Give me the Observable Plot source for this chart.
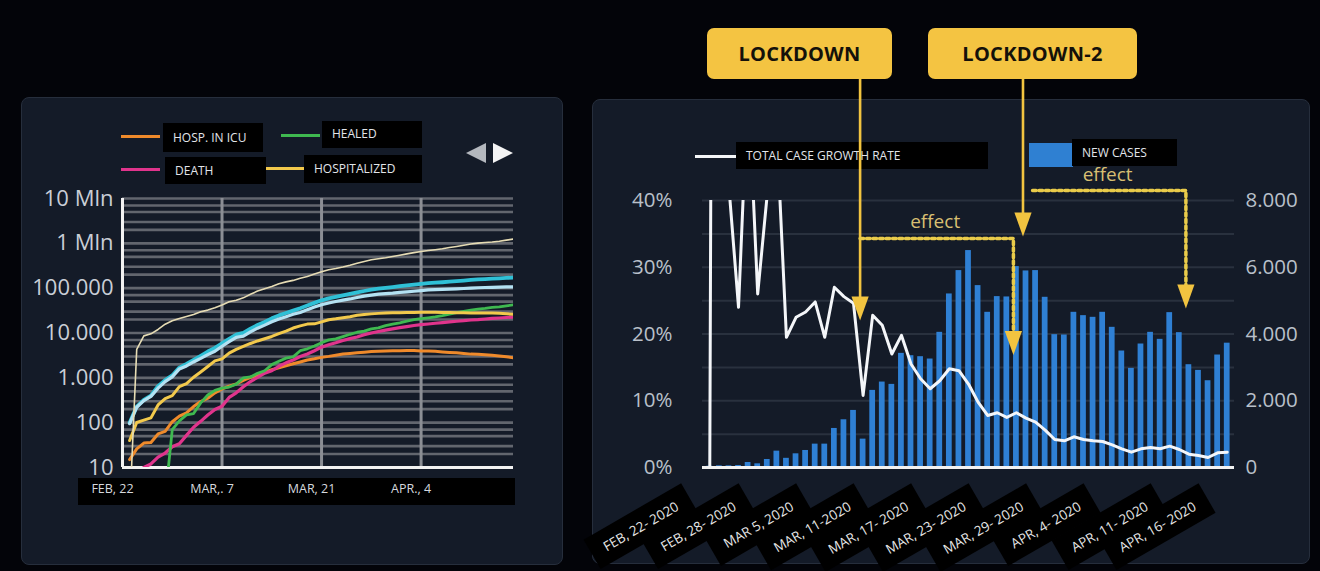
<!DOCTYPE html>
<html><head><meta charset="utf-8">
<script src="https://cdn.jsdelivr.net/npm/d3@7"></script>
<script src="https://cdn.jsdelivr.net/npm/@observablehq/plot@0.6"></script>
<style>
html,body{margin:0;padding:0;background:#030409;}
#page{position:relative;width:1320px;height:571px;overflow:hidden;background:#030409;font-family:"Open Sans",sans-serif;}
.panel{position:absolute;background:#141b28;border:1.5px solid #262e3c;border-radius:8px;box-sizing:border-box;}
.blk{position:absolute;background:#000;}
.lg{position:absolute;color:#e2e5ea;font-size:12px;line-height:1;white-space:nowrap;}
.sw{position:absolute;height:3px;}
.lock{position:absolute;background:#f4c442;border-radius:7px;color:#14110a;font-weight:700;font-size:20px;display:flex;align-items:center;justify-content:center;letter-spacing:0.3px;}
.tri{position:absolute;width:0;height:0;border-top:10px solid transparent;border-bottom:10px solid transparent;}
</style></head><body>
<div id="page">
  <div class="panel" style="left:21px;top:97px;width:542px;height:468px"></div>
  <div class="panel" style="left:592px;top:99px;width:718px;height:465px"></div>

  <!-- left legend -->
  <div class="sw" style="left:121px;top:135px;width:39px;background:#ef8a2b"></div>
  <div class="blk" style="left:163px;top:123px;width:100px;height:29px"></div>
  <div class="lg" style="left:173px;top:132px">HOSP. IN ICU</div>
  <div class="sw" style="left:281px;top:134px;width:39px;background:#3fb950"></div>
  <div class="blk" style="left:322px;top:121px;width:100px;height:27px"></div>
  <div class="lg" style="left:332px;top:128px">HEALED</div>
  <div class="sw" style="left:121px;top:168px;width:39px;background:#e0348c"></div>
  <div class="blk" style="left:165px;top:157px;width:101px;height:27px"></div>
  <div class="lg" style="left:175px;top:165px">DEATH</div>
  <div class="sw" style="left:266px;top:167px;width:38px;background:#f2c94c"></div>
  <div class="blk" style="left:304px;top:155px;width:118px;height:28px"></div>
  <div class="lg" style="left:314px;top:163px">HOSPITALIZED</div>
  <div class="tri" style="left:466px;top:143px;border-right:20px solid #b4b8be"></div>
  <div class="tri" style="left:493px;top:143px;border-left:20px solid #f4f4f4"></div>
  <div class="blk" style="left:78px;top:478px;width:437px;height:27px"></div>

  <!-- right legend -->
  <div class="sw" style="left:695px;top:155px;width:42px;background:#f4f6f8"></div>
  <div class="blk" style="left:736px;top:142px;width:252px;height:27px"></div>
  <div class="lg" style="left:746px;top:150px">TOTAL CASE GROWTH RATE</div>
  <div class="sw" style="left:1029px;top:143px;width:44px;height:24px;background:#2f80d2"></div>
  <div class="blk" style="left:1072px;top:139px;width:105px;height:27px"></div>
  <div class="lg" style="left:1082px;top:147px">NEW CASES</div>

  <div id="left" style="position:absolute;left:0;top:0"></div>
  <div id="right" style="position:absolute;left:592px;top:0"></div>

  <div class="lock" style="left:707px;top:28px;width:185px;height:51px">LOCKDOWN</div>
  <div class="lock" style="left:928px;top:28px;width:209px;height:51px">LOCKDOWN-2</div>
</div>
<script>
const D = (m, d) => new Date(Date.UTC(2020, m, d));

// ---------- LEFT CHART DATA (Feb 23 .. Apr 17) ----------
const leftDays = d3.utcDay.range(D(1, 23), D(3, 18));
const tests = [1, 4320, 8620, 9590, 12000, 15700, 18700,
  21100, 23300, 25900, 29800, 32400, 36400, 42100, 49900, 53800, 60800, 73200, 86000, 97500, 109000, 125000, 138000, 149000, 166000, 183000, 207000, 233000, 258000, 275000, 297000, 324000, 361000, 394000, 430000, 454000, 477000, 507000,
  541000, 581000, 620000, 657000, 691000, 722000, 755000, 807000, 853000, 907000, 963000, 1010000, 1047000, 1074000, 1117000, 1178000, 1244000];
const totalCases = [100, 229, 322, 400, 650, 888, 1130,
  1690, 2040, 2500, 3090, 3860, 4640, 5880, 7380, 9170, 10100, 12500, 15100, 17700, 21200, 24700, 28000, 31500, 35700, 41000, 47000, 53600, 59100, 63900, 69200, 74400, 80500, 86500, 92500, 97700, 101700, 105800,
  110600, 115200, 119800, 124600, 128900, 132500, 135600, 139400, 143600, 147600, 152300, 156400, 159500, 162500, 165200, 168900, 172400];
const activeCases = [95, 221, 311, 385, 588, 821, 1050,
  1580, 1840, 2260, 2710, 3300, 3920, 5060, 6390, 7990, 8510, 10600, 12800, 15000, 17800, 20600, 23100, 26100, 28700, 33200, 37900, 42700, 46600, 50400, 54000, 57500, 62000, 66400, 70100, 73900, 75500, 77600,
  80600, 83000, 85400, 88300, 91200, 93200, 94100, 95300, 96900, 98300, 100300, 102300, 103600, 104300, 105400, 106600, 107000];
const hospitalized = [40, 101, 114, 128, 248, 345, 401,
  639, 742, 1030, 1350, 1790, 2390, 2650, 3560, 4320, 5040, 5840, 6650, 7430, 8370, 9660, 11000, 12900, 14400, 15800, 16000, 17700, 19800, 20700, 21900, 23100, 24800, 26000, 26700, 27400, 27800, 28200,
  28400, 28500, 28700, 29000, 28900, 29000, 28700, 28500, 28400, 28200, 28100, 27800, 28000, 28000, 27600, 26900, 26000];
const icu = [15, 26, 35, 36, 56, 64, 105,
  140, 166, 229, 295, 351, 462, 567, 650, 733, 877, 1030, 1150, 1330, 1520, 1670, 1850, 2060, 2260, 2500, 2660, 2860, 3010, 3200, 3400, 3490, 3610, 3730, 3860, 3910, 3980, 4020,
  4040, 4050, 4070, 3990, 3980, 3900, 3790, 3690, 3610, 3500, 3380, 3340, 3260, 3190, 3080, 2940, 2810];
const deaths = [3, 7, 10, 12, 17, 21, 29,
  34, 52, 79, 107, 148, 197, 233, 366, 463, 631, 827, 1020, 1270, 1440, 1810, 2160, 2500, 2980, 3410, 4030, 4830, 5480, 6080, 6820, 7500, 8170, 9130, 10000, 10800, 11600, 12400,
  13200, 13900, 14700, 15400, 15900, 16500, 17100, 17700, 18300, 18800, 19500, 19900, 20500, 21100, 21600, 22200, 22700];
const healed = [1, 1, 1, 1, 2, 2, 70,
  110, 149, 160, 276, 414, 523, 589, 622, 724, 1000, 1050, 1260, 1440, 1970, 2340, 2750, 2940, 4030, 4440, 5130, 6070, 7020, 7430, 8330, 9360, 10400, 11000, 12400, 13000, 14600, 15700,
  16800, 18300, 19800, 21000, 21800, 22800, 24400, 26500, 28500, 30500, 32500, 34200, 35400, 37100, 38100, 40200, 42700];

const leftSeries = [
  {name: "HOSP. IN ICU", values: icu, color: "#ef8a2b", w: 3},
  {name: "DEATH", values: deaths, color: "#e0348c", w: 3.2},
  {name: "HEALED", values: healed, color: "#3fb950", w: 2.8},
  {name: "HOSPITALIZED", values: hospitalized, color: "#f2c94c", w: 3},
  {name: "TOTAL", values: totalCases, color: "#2fc0d6", w: 3.8},
  {name: "ACTIVE", values: activeCases, color: "#b4e2f3", w: 3.2},
  {name: "TESTS", values: tests, color: "#e6dcb4", w: 1.6}
];
const yTicksL = [10, 100, 1e3, 1e4, 1e5, 1e6, 1e7];
const yTickLabelsL = ["10", "100", "1.000", "10.000", "100.000", "1 Mln", "10 Mln"];
const yLabelMapL = new Map(yTicksL.map((t, i) => [t, yTickLabelsL[i]]));
const gridMinorL = [];
for (const p of [10, 100, 1e3, 1e4, 1e5, 1e6]) for (const k of [1, 2, 3, 5, 7]) gridMinorL.push(p * k);
gridMinorL.push(1e7);
const xGridL = [D(2, 7), D(2, 21), D(3, 4)];
const xLabelDatesL = [D(1, 22), D(2, 7), D(2, 21), D(3, 4)];
const xLabelTextL = ["FEB, 22", "MAR,. 7", "MAR, 21", "APR., 4"];

const leftPlot = Plot.plot({
  width: 570, height: 571,
  marginLeft: 122, marginRight: 57, marginTop: 198, marginBottom: 104,
  style: {background: "transparent", color: "#c9ced6", fontFamily: "Open Sans, sans-serif", maxWidth: "none", overflow: "visible"},
  x: {type: "utc", domain: [D(1, 22), D(3, 17)], axis: null, label: null},
  y: {type: "log", domain: [10, 1e7], axis: null, label: null},
  marks: [
    Plot.ruleY(gridMinorL, {stroke: "#62666e", strokeWidth: 2.6}),
    Plot.ruleX(xGridL, {stroke: "#8b8e94", strokeWidth: 3}),
    Plot.ruleX([D(1, 22)], {stroke: "#f2f2f2", strokeWidth: 3}),
    Plot.ruleY([10], {stroke: "#f2f2f2", strokeWidth: 3}),
    Plot.axisY({ticks: yTicksL, tickFormat: d => yLabelMapL.get(d), tickSize: 0, tickPadding: 9, fontSize: 22, fill: "#c9ced6", label: null}),
    ...leftSeries.map(s => Plot.lineY(s.values.map((v, i) => ({date: leftDays[i], v})), {
      x: "date", y: "v", stroke: s.color, strokeWidth: s.w, clip: true, strokeLinejoin: "round"
    })),
    Plot.text(xLabelDatesL, {x: d => d, text: xLabelTextL, frameAnchor: "bottom", dy: 25, dx: -10, fill: "#d6d9de", fontSize: 12.5})
  ]
});
document.getElementById("left").appendChild(leftPlot);

// ---------- RIGHT CHART DATA (Feb 22 .. Apr 16) ----------
const rightDays = d3.utcDay.range(D(1, 22), D(3, 17));
const newCases = [40, 50, 50, 60, 150, 110, 240, 490, 275, 410, 510, 700, 700, 1170, 1430, 1710, 850, 2310, 2560, 2490,
  3420, 3350, 3320, 3250, 4050, 5200, 5900, 6500, 5450, 4650, 5120, 5110, 6020, 5890, 5900, 5100, 3980, 3970, 4650, 4550,
  4500, 4650, 4200, 3490, 2970, 3700, 4050, 3840, 4640, 4040, 3080, 2910, 2600, 3370, 3725];
const growthRate = [0, 400, 42, 24, 58, 26, 41, 50, 19.5, 22.5, 23.3, 24.8, 19.5, 27, 25.6, 24.6, 10.8, 22.8, 21.3, 17,
  19.8, 15.5, 13.3, 11.8, 13, 14.8, 14.5, 12.5, 9.8, 7.8, 8.2, 7.5, 8.2, 7.4, 6.8, 5.6, 4.2, 4.0, 4.6, 4.2,
  4.0, 3.9, 3.4, 2.8, 2.3, 2.8, 3.0, 2.8, 3.2, 2.7, 2.0, 1.8, 1.5, 2.2, 2.3];
const casesPerPercent = 200; // 40% <-> 8.000 on the twin axes
const yTicksR = [0, 2000, 4000, 6000, 8000];
const leftLabelsR = ["0%", "10%", "20%", "30%", "40%"];
const rightLabelsR = ["0", "2.000", "4.000", "6.000", "8.000"];
const gridR = [1000, 2000, 3000, 4000, 5000, 6000, 7000, 8000];
const xLabelDatesR = [D(1, 22), D(1, 28), D(2, 5), D(2, 11), D(2, 17), D(2, 23), D(2, 29), D(3, 4), D(3, 11), D(3, 16)];
const xLabelTextR = ["FEB, 22- 2020", "FEB, 28- 2020", "MAR 5, 2020", "MAR, 11-2020", "MAR, 17- 2020", "MAR, 23- 2020", "MAR, 29- 2020", "APR, 4- 2020", "APR, 11- 2020", "APR, 16- 2020"];

// annotations
const lockDates = [D(2, 9), D(2, 26)];
const lockFrom = [11625, 11625];
const lockTo = [5003, 7580];
const lockHeads = [4764, 7280];
const effect1 = [{d: D(2, 9), v: 6861}, {d: D(2, 25), v: 6861}, {d: D(2, 25), v: 4105}];
const effect2 = [{d: D(2, 27), v: 8299}, {d: D(3, 12), v: 8299}, {d: D(3, 12), v: 5453}];
const effectHeads = [{d: D(2, 25), v: 3730}, {d: D(3, 12), v: 5123}];
const effectLabels = [{d: D(2, 16), v: 7370}, {d: D(3, 3), v: 8778}];

const triDown = {draw(ctx, size) {
  const s = Math.sqrt(size), w = 0.36 * s, h = s;
  ctx.moveTo(-w, -h / 2); ctx.lineTo(w, -h / 2); ctx.lineTo(0, h / 2); ctx.closePath();
}};

const barRows = rightDays.map((d, i) => ({date: d, cases: newCases[i]}));
const rateRows = rightDays.map((d, i) => ({date: d, rate: growthRate[i]}));
const yellow = "#f2c440";

const rightPlot = Plot.plot({
  width: 718, height: 571,
  marginLeft: 110, marginRight: 76, marginTop: 200, marginBottom: 104,
  style: {background: "transparent", color: "#b9c0ca", fontFamily: "Open Sans, sans-serif", maxWidth: "none", overflow: "visible"},
  x: {type: "band", domain: rightDays, paddingInner: 0.4, paddingOuter: 0.46, axis: null, label: null},
  y: {domain: [0, 8000], axis: null, label: null},
  marks: [
    Plot.ruleY(gridR, {stroke: "#29313e", strokeWidth: 2}),
    Plot.axisY({anchor: "left", ticks: yTicksR, tickFormat: d => leftLabelsR[yTicksR.indexOf(d)], tickSize: 0, tickPadding: 30, fontSize: 20.5, fill: "#b9c0ca", label: null}),
    Plot.axisY({anchor: "right", ticks: yTicksR, tickFormat: d => rightLabelsR[yTicksR.indexOf(d)], tickSize: 0, tickPadding: 11, fontSize: 20.5, fill: "#b9c0ca", label: null}),
    Plot.barY(barRows, {x: "date", y: "cases", fill: "#2f80d4"}),
    Plot.ruleY([0], {stroke: "#f2f2f2", strokeWidth: 3}),
    Plot.lineY(rateRows, {x: "date", y: d => d.rate * casesPerPercent, stroke: "#f4f6f9", strokeWidth: 3, clip: true, strokeLinejoin: "round"}),
    Plot.ruleX(lockDates, {x: d => d, y1: (d, i) => lockFrom[i], y2: (d, i) => lockTo[i], stroke: yellow, strokeWidth: 2.6, dx: -3}),
    Plot.dot(lockDates, {x: d => d, y: (d, i) => lockHeads[i], symbol: triDown, r: 13.5, fill: yellow, stroke: "none", dx: -3}),
    Plot.line(effect1, {x: "d", y: "v", stroke: "#e9cb4a", strokeWidth: 3.5, strokeDasharray: "3.5 3", dx: -3}),
    Plot.line(effect2, {x: "d", y: "v", stroke: "#e9cb4a", strokeWidth: 3.5, strokeDasharray: "3.5 3", dx: -3}),
    Plot.dot(effectHeads, {x: "d", y: "v", symbol: triDown, r: 13.5, fill: yellow, stroke: "none", dx: -3}),
    Plot.text(effectLabels, {x: "d", y: "v", text: () => "effect", dx: 5, fill: "#d8bf72", fontSize: 19}),
    Plot.text(xLabelDatesR, {x: d => d, text: xLabelTextR, frameAnchor: "bottom", rotate: -30, textAnchor: "end", dx: -30, dy: 42, fill: "#e8e8e8", fontSize: 13.5})
  ]
});
document.getElementById("right").appendChild(rightPlot);

// black label boxes behind the rotated date labels
(function () {
  const wanted = new Set(xLabelTextR);
  const texts = Array.from(rightPlot.querySelectorAll("text")).filter(t => wanted.has(t.textContent.trim()));
  const svgNS = "http://www.w3.org/2000/svg";
  texts.forEach(t => {
    const b = t.getBBox();
    const r = document.createElementNS(svgNS, "rect");
    r.setAttribute("x", b.x - 14);
    r.setAttribute("y", b.y - 8);
    r.setAttribute("width", b.width + 28);
    r.setAttribute("height", b.height + 16);
    r.setAttribute("fill", "#000");
    const tr = t.getAttribute("transform");
    if (tr) r.setAttribute("transform", tr);
    const parent = t.parentNode;
    parent.insertBefore(r, parent.firstChild);
  });
})();
</script>
</body></html>
